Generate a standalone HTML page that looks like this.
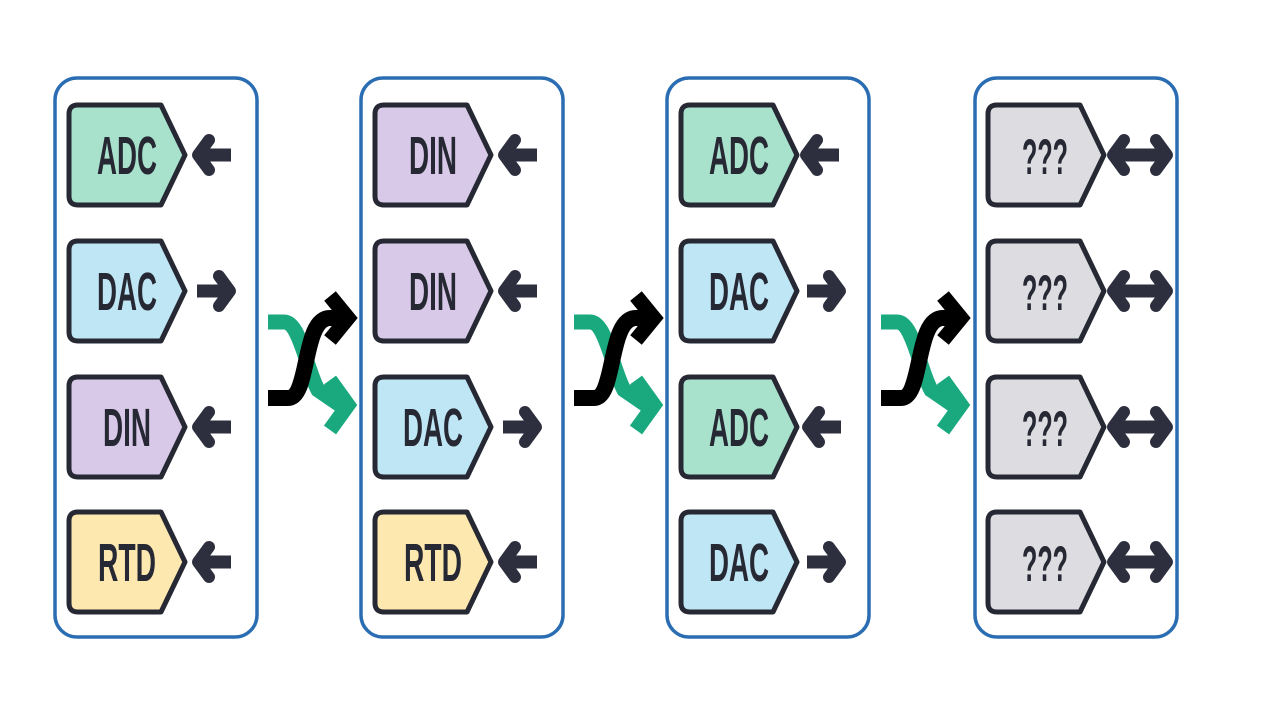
<!DOCTYPE html>
<html><head><meta charset="utf-8"><style>
html,body{margin:0;padding:0;background:#fff;width:1280px;height:721px;overflow:hidden}
svg{display:block}
text{font-family:"Liberation Sans Narrow","Liberation Sans",sans-serif;font-weight:bold;fill:#262833;text-anchor:middle}
</style></head><body>
<svg width="1280" height="721" viewBox="0 0 1280 721" xmlns="http://www.w3.org/2000/svg">
<defs>
<path id="tag" d="M9,0 H92 L116,50 L92,100 H9 Q0,100 0,91 V9 Q0,0 9,0 Z" stroke="#262833" stroke-width="5" stroke-linejoin="round"/>
<g id="la" fill="none" stroke="#2d2e3e" stroke-linejoin="round" stroke-linecap="round">
<polyline points="15,-15 4,0 15,15" stroke-width="12"/>
<line x1="8" y1="0" x2="37" y2="0" stroke-width="13" stroke-linecap="butt"/>
</g>
<g id="ra" fill="none" stroke="#2d2e3e" stroke-linejoin="round" stroke-linecap="round">
<polyline points="23,-15 34,0 23,15" stroke-width="12"/>
<line x1="1" y1="0" x2="30" y2="0" stroke-width="13" stroke-linecap="butt"/>
</g>
<g id="da" fill="none" stroke="#2d2e3e" stroke-linejoin="round" stroke-linecap="round">
<polyline points="15,-15 4,0 15,15" stroke-width="12"/>
<polyline points="47,-15 58,0 47,15" stroke-width="12"/>
<line x1="8" y1="0" x2="54" y2="0" stroke-width="13" stroke-linecap="butt"/>
</g>
<g id="sh" fill="none" stroke-linejoin="miter">
<path d="M0,322 H16 C32,322 38,368 50,390 L72,405" stroke="#1aa97f" stroke-width="15"/>
<polyline points="62,380 80,405 62,430" stroke="#1aa97f" stroke-width="15"/>
<path d="M0,398 H20 C42,398 34,318 62,318 H72" stroke="#000" stroke-width="16"/>
<polyline points="62,296 80,318 62,340" stroke="#000" stroke-width="15"/>
</g>
<rect id="panel" x="0" y="0" width="202" height="559" rx="22" fill="#fff" stroke="#2a6db2" stroke-width="3.5"/>
</defs>

<use href="#panel" x="55" y="78"/>
<use href="#panel" x="361" y="78"/>
<use href="#panel" x="667" y="78"/>
<use href="#panel" x="975" y="78"/>

<use href="#sh" x="268" y="0"/>
<use href="#sh" x="574" y="0"/>
<use href="#sh" x="881" y="0"/>

<!-- Panel 1 -->
<use href="#tag" x="69" y="105" fill="#a8e2cd"/>
<use href="#tag" x="69" y="241" fill="#bfe6f5"/>
<use href="#tag" x="69" y="377" fill="#d9c9e8"/>
<use href="#tag" x="69" y="512" fill="#fde8b0"/>
<text x="127" y="174" font-size="54" textLength="60" lengthAdjust="spacingAndGlyphs">ADC</text>
<text x="127" y="310" font-size="54" textLength="60" lengthAdjust="spacingAndGlyphs">DAC</text>
<text x="127" y="446" font-size="54" textLength="48" lengthAdjust="spacingAndGlyphs">DIN</text>
<text x="127" y="581" font-size="54" textLength="58" lengthAdjust="spacingAndGlyphs">RTD</text>
<use href="#la" x="194" y="155"/>
<use href="#ra" x="196" y="291"/>
<use href="#la" x="194" y="427"/>
<use href="#la" x="194" y="562"/>

<!-- Panel 2 -->
<use href="#tag" x="375" y="105" fill="#d9c9e8"/>
<use href="#tag" x="375" y="241" fill="#d9c9e8"/>
<use href="#tag" x="375" y="377" fill="#bfe6f5"/>
<use href="#tag" x="375" y="512" fill="#fde8b0"/>
<text x="433" y="174" font-size="54" textLength="48" lengthAdjust="spacingAndGlyphs">DIN</text>
<text x="433" y="310" font-size="54" textLength="48" lengthAdjust="spacingAndGlyphs">DIN</text>
<text x="433" y="446" font-size="54" textLength="60" lengthAdjust="spacingAndGlyphs">DAC</text>
<text x="433" y="581" font-size="54" textLength="58" lengthAdjust="spacingAndGlyphs">RTD</text>
<use href="#la" x="500" y="155"/>
<use href="#la" x="500" y="291"/>
<use href="#ra" x="502" y="427"/>
<use href="#la" x="500" y="562"/>

<!-- Panel 3 -->
<use href="#tag" x="681" y="105" fill="#a8e2cd"/>
<use href="#tag" x="681" y="241" fill="#bfe6f5"/>
<use href="#tag" x="681" y="377" fill="#a8e2cd"/>
<use href="#tag" x="681" y="512" fill="#bfe6f5"/>
<text x="739" y="174" font-size="54" textLength="60" lengthAdjust="spacingAndGlyphs">ADC</text>
<text x="739" y="310" font-size="54" textLength="60" lengthAdjust="spacingAndGlyphs">DAC</text>
<text x="739" y="446" font-size="54" textLength="60" lengthAdjust="spacingAndGlyphs">ADC</text>
<text x="739" y="581" font-size="54" textLength="60" lengthAdjust="spacingAndGlyphs">DAC</text>
<use href="#la" x="802" y="155"/>
<use href="#ra" x="806" y="291"/>
<use href="#la" x="804" y="427"/>
<use href="#ra" x="806" y="562"/>

<!-- Panel 4 -->
<use href="#tag" x="988" y="105" fill="#dcdce1"/>
<use href="#tag" x="988" y="241" fill="#dcdce1"/>
<use href="#tag" x="988" y="377" fill="#dcdce1"/>
<use href="#tag" x="988" y="512" fill="#dcdce1"/>
<text x="1045" y="174" font-size="50" textLength="46" lengthAdjust="spacingAndGlyphs">???</text>
<text x="1045" y="310" font-size="50" textLength="46" lengthAdjust="spacingAndGlyphs">???</text>
<text x="1045" y="446" font-size="50" textLength="46" lengthAdjust="spacingAndGlyphs">???</text>
<text x="1045" y="581" font-size="50" textLength="46" lengthAdjust="spacingAndGlyphs">???</text>
<use href="#da" x="1109" y="155"/>
<use href="#da" x="1109" y="291"/>
<use href="#da" x="1109" y="427"/>
<use href="#da" x="1109" y="562"/>
</svg>
</body></html>
